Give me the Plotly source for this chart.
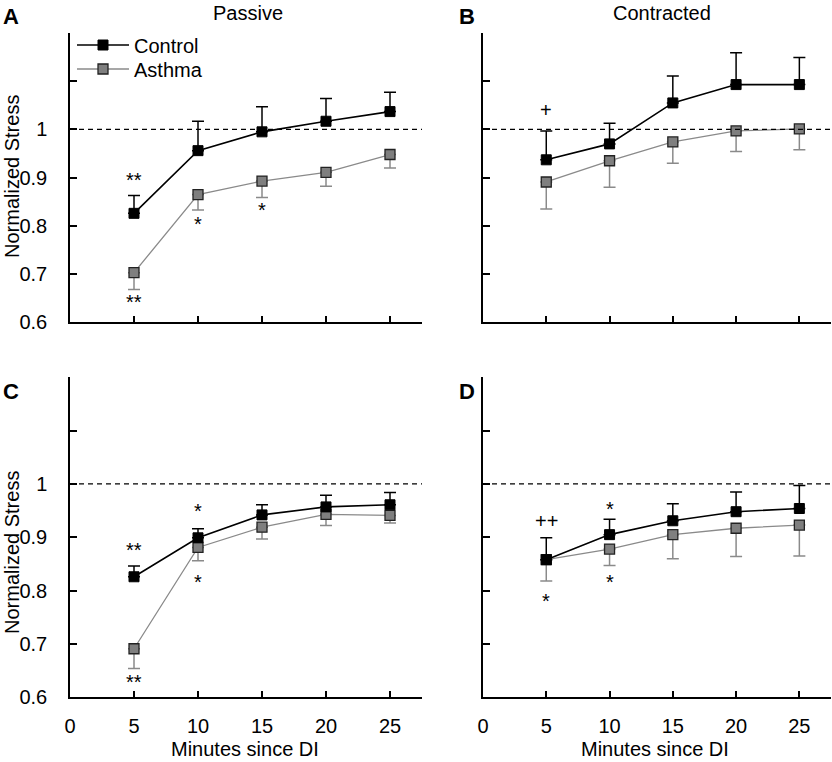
import plotly.graph_objects as go

minutes = [5, 10, 15, 20, 25]

# Panel A (Passive, top)
A_control = [0.826, 0.956, 0.995, 1.017, 1.037]
A_control_err = [0.037, 0.061, 0.052, 0.047, 0.040]
A_asthma = [0.703, 0.865, 0.893, 0.911, 0.948]
A_asthma_err = [0.035, 0.032, 0.034, 0.029, 0.028]

# Panel B (Contracted, top)
B_control = [0.937, 0.970, 1.055, 1.093, 1.093]
B_control_err = [0.060, 0.043, 0.056, 0.066, 0.056]
B_asthma = [0.891, 0.935, 0.974, 0.997, 1.001]
B_asthma_err = [0.056, 0.055, 0.044, 0.043, 0.043]

# Panel C (Passive, bottom)
C_control = [0.826, 0.899, 0.942, 0.957, 0.961]
C_control_err = [0.020, 0.017, 0.019, 0.022, 0.023]
C_asthma = [0.691, 0.881, 0.919, 0.943, 0.941]
C_asthma_err = [0.037, 0.025, 0.022, 0.021, 0.014]

# Panel D (Contracted, bottom)
D_control = [0.858, 0.905, 0.931, 0.948, 0.954]
D_control_err = [0.041, 0.029, 0.032, 0.037, 0.043]
D_asthma = [0.858, 0.878, 0.905, 0.917, 0.923]
D_asthma_err = [0.040, 0.031, 0.045, 0.053, 0.058]

# significance marks: (panel, x, y, text)
sig_marks = [
    ("A", 5, 0.905, "**"), ("A", 5, 0.652, "**"), ("A", 10, 0.815, "*"), ("A", 15, 0.843, "*"),
    ("B", 5, 1.040, "+"),
    ("C", 5, 0.886, "**"), ("C", 5, 0.638, "**"), ("C", 10, 0.958, "*"), ("C", 10, 0.826, "*"),
    ("D", 5, 0.930, "++"), ("D", 5, 0.790, "*"), ("D", 10, 0.962, "*"), ("D", 10, 0.826, "*"),
]

y_tickvals = [0.6, 0.7, 0.8, 0.9, 1.0, 1.1]
y_ticktext = ["0.6", "0.7", "0.8", "0.9", "1", ""]
x_tickvals = [0, 5, 10, 15, 20, 25]
x_ticktext = ["0", "5", "10", "15", "20", "25"]

FONT = "Liberation Sans, Arial, Helvetica, sans-serif"
FS = 20
W, H = 832, 762
GRAY_LINE = "#8a8a8a"
GRAY_FILL = "#7f7f7f"

panels = {
    "A": dict(xa="x", ya="y", ctrl=(A_control, A_control_err), ast=(A_asthma, A_asthma_err)),
    "B": dict(xa="x2", ya="y2", ctrl=(B_control, B_control_err), ast=(B_asthma, B_asthma_err)),
    "C": dict(xa="x3", ya="y3", ctrl=(C_control, C_control_err), ast=(C_asthma, C_asthma_err)),
    "D": dict(xa="x4", ya="y4", ctrl=(D_control, D_control_err), ast=(D_asthma, D_asthma_err)),
}

fig = go.Figure()
for name, p in panels.items():
    av, ae = p["ast"]
    cv, ce = p["ctrl"]
    fig.add_trace(go.Scatter(
        x=minutes, y=av, xaxis=p["xa"], yaxis=p["ya"], mode="lines+markers",
        name="Asthma", showlegend=(name == "A"), legend="legend2",
        line=dict(color=GRAY_LINE, width=1.3),
        marker=dict(symbol="square", size=10, color=GRAY_FILL, line=dict(color="#222222", width=1.3)),
        error_y=dict(type="data", symmetric=False, array=[0] * len(ae), arrayminus=ae,
                     color=GRAY_LINE, thickness=1.5, width=6),
    ))
    fig.add_trace(go.Scatter(
        x=minutes, y=cv, xaxis=p["xa"], yaxis=p["ya"], mode="lines+markers",
        name="Control", showlegend=(name == "A"), legend="legend",
        line=dict(color="black", width=1.6),
        marker=dict(symbol="square", size=10, color="black", line=dict(color="black", width=1)),
        error_y=dict(type="data", symmetric=False, array=ce, arrayminus=[0] * len(ce),
                     color="black", thickness=1.5, width=6),
    ))

# domains in pixels
px_x = {"L": (70, 422), "R": (483, 831)}
px_y = {"T": (33, 322.3), "B": (377.3, 697.3)}

def xdom(k):
    a, b = px_x[k]
    return [a / W, b / W]

def ydom(k):
    a, b = px_y[k]
    return [1 - b / H, 1 - a / H]

axis_common = dict(showline=True, linecolor="black", linewidth=1.5, ticks="inside",
                   ticklen=7, tickwidth=1.5, tickcolor="black", showgrid=False,
                   zeroline=False, automargin=False,
                   tickfont=dict(family=FONT, size=FS, color="black"))

layout_axes = {}
spec = [("", "L", "T", True, False), ("2", "R", "T", False, False),
        ("3", "L", "B", True, True), ("4", "R", "B", False, True)]
for suf, xk, yk, ylab, xlab in spec:
    layout_axes["xaxis" + suf] = dict(axis_common, domain=xdom(xk), range=[0, 27.5],
                                      anchor="y" + suf, tickvals=x_tickvals, ticktext=x_ticktext,
                                      showticklabels=xlab, ticklabelstandoff=10)
    layout_axes["yaxis" + suf] = dict(axis_common, domain=ydom(yk), range=[0.6, 1.2],
                                      anchor="x" + suf, tickvals=y_tickvals, ticktext=y_ticktext,
                                      showticklabels=ylab, ticklabelstandoff=17)

shapes = []
for suf in ["", "2", "3", "4"]:
    shapes.append(dict(type="line", xref=("x" + suf + " domain"), yref="y" + suf,
                       x0=0, x1=1, y0=1, y1=1,
                       line=dict(color="black", width=1.3, dash="5px,4px")))

annotations = []
for panel, xv, yv, txt in sig_marks:
    p = panels[panel]
    annotations.append(dict(x=xv, y=yv, xref=p["xa"], yref=p["ya"], text=txt, showarrow=False,
                            font=dict(family=FONT, size=FS, color="black"),
                            yshift=(-5 if "*" in txt else 0)))

def paper_ann(text, x, y, size=FS, bold=False, angle=0):
    t = "<b>%s</b>" % text if bold else text
    return dict(text=t, x=x / W, y=1 - y / H, xref="paper", yref="paper", showarrow=False,
                xanchor="center", yanchor="middle", textangle=angle,
                font=dict(family=FONT, size=size, color="black"))

annotations += [
    paper_ann("Passive", 248, 13),
    paper_ann("Contracted", 662, 13),
    paper_ann("A", 11, 16, size=22, bold=True),
    paper_ann("B", 467, 16, size=22, bold=True),
    paper_ann("C", 11, 391, size=22, bold=True),
    paper_ann("D", 467, 391, size=22, bold=True),
    paper_ann("Normalized Stress", 12, 177, angle=-90),
    paper_ann("Normalized Stress", 12, 553, angle=-90),
    paper_ann("Minutes since DI", 245, 749),
    paper_ann("Minutes since DI", 655, 749),
]

legend_style = dict(xanchor="left", yanchor="middle", bgcolor="rgba(0,0,0,0)",
                    font=dict(family=FONT, size=FS, color="black"), itemwidth=52)

fig.update_layout(
    width=W, height=H, margin=dict(l=0, r=0, t=0, b=0, autoexpand=False),
    plot_bgcolor="white", paper_bgcolor="white",
    font=dict(family=FONT, size=FS, color="black"),
    showlegend=True,
    legend=dict(legend_style, x=72 / W, y=1 - 45 / H),
    legend2=dict(legend_style, x=72 / W, y=1 - 69 / H),
    shapes=shapes, annotations=annotations,
    **layout_axes,
)

fig.write_html(
    "out.html",
    config={"displayModeBar": False},
    post_script="document.body.style.margin='0';document.body.style.overflow='hidden';",
)
